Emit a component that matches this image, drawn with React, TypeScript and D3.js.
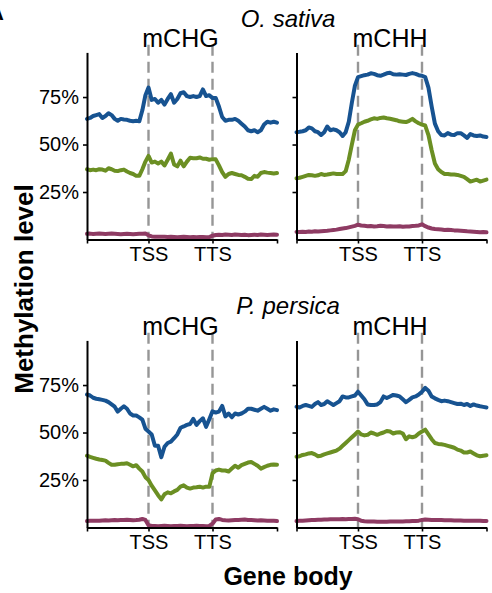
import React, { useEffect, useRef } from 'react';
import * as d3 from 'd3';

// bins along the metagene: 20 upstream, 20 gene body, 20 downstream
const bins = d3.range(61).map(i => i / 20);
const xTicks = [0, 1, 2, 3];
const xTickLabels = ['', 'TSS', 'TTS', ''];
const yTicks = [0.25, 0.5, 0.75];
const yTickLabels = ['25%', '50%', '75%'];
const species = ['O. sativa', 'P. persica'];
const contexts = ['mCHG', 'mCHH'];
const colors = ['#175391', '#6b8f23', '#8e3b63'];

// O. sativa mCHG
const sativaChgBlue = [0.635, 0.64, 0.65, 0.655, 0.66, 0.64, 0.65, 0.665, 0.655, 0.635, 0.625, 0.635, 0.632, 0.63, 0.625, 0.623, 0.625, 0.622, 0.68, 0.76, 0.8, 0.735, 0.74, 0.72, 0.735, 0.71, 0.74, 0.765, 0.72, 0.74, 0.77, 0.775, 0.755, 0.75, 0.755, 0.75, 0.755, 0.79, 0.755, 0.76, 0.745, 0.745, 0.7, 0.645, 0.625, 0.63, 0.63, 0.635, 0.625, 0.61, 0.595, 0.575, 0.57, 0.575, 0.565, 0.575, 0.605, 0.62, 0.615, 0.62, 0.615];
const sativaChgGreen = [0.37, 0.365, 0.368, 0.365, 0.37, 0.368, 0.362, 0.375, 0.37, 0.362, 0.36, 0.365, 0.368, 0.358, 0.35, 0.345, 0.335, 0.335, 0.37, 0.41, 0.44, 0.405, 0.41, 0.4, 0.41, 0.39, 0.42, 0.452, 0.395, 0.385, 0.415, 0.385, 0.41, 0.43, 0.428, 0.428, 0.432, 0.425, 0.425, 0.42, 0.423, 0.422, 0.39, 0.355, 0.33, 0.345, 0.35, 0.345, 0.34, 0.338, 0.33, 0.32, 0.318, 0.335, 0.33, 0.35, 0.355, 0.352, 0.35, 0.348, 0.35];
const sativaChgRed = [0.03, 0.031, 0.029, 0.03, 0.031, 0.03, 0.029, 0.03, 0.031, 0.03, 0.029, 0.028, 0.029, 0.03, 0.029, 0.028, 0.029, 0.03, 0.03, 0.031, 0.022, 0.016, 0.015, 0.014, 0.015, 0.014, 0.013, 0.014, 0.013, 0.012, 0.013, 0.014, 0.013, 0.012, 0.013, 0.012, 0.013, 0.013, 0.012, 0.013, 0.02, 0.024, 0.025, 0.024, 0.026, 0.025, 0.024, 0.026, 0.025, 0.024, 0.025, 0.023, 0.024, 0.025, 0.024, 0.026, 0.025, 0.024, 0.025, 0.026, 0.025];

// O. sativa mCHH
const sativaChhBlue = [0.565, 0.567, 0.57, 0.575, 0.59, 0.585, 0.57, 0.565, 0.55, 0.565, 0.595, 0.575, 0.58, 0.575, 0.565, 0.545, 0.565, 0.62, 0.72, 0.81, 0.855, 0.86, 0.865, 0.868, 0.875, 0.872, 0.865, 0.862, 0.868, 0.875, 0.878, 0.87, 0.868, 0.87, 0.868, 0.866, 0.872, 0.876, 0.872, 0.865, 0.862, 0.855, 0.8, 0.7, 0.61, 0.57, 0.55, 0.548, 0.56, 0.552, 0.55, 0.56, 0.56, 0.548, 0.535, 0.555, 0.548, 0.545, 0.548, 0.542, 0.54];
const sativaChhGreen = [0.322, 0.325, 0.33, 0.335, 0.34, 0.338, 0.335, 0.338, 0.345, 0.34, 0.342, 0.345, 0.348, 0.345, 0.345, 0.345, 0.36, 0.42, 0.5, 0.575, 0.605, 0.612, 0.62, 0.625, 0.632, 0.638, 0.635, 0.64, 0.642, 0.638, 0.636, 0.632, 0.628, 0.622, 0.62, 0.618, 0.625, 0.635, 0.622, 0.612, 0.605, 0.6, 0.55, 0.47, 0.4, 0.37, 0.355, 0.345, 0.345, 0.342, 0.342, 0.34, 0.335, 0.33, 0.318, 0.305, 0.31, 0.315, 0.305, 0.31, 0.315];
const sativaChhRed = [0.04, 0.039, 0.041, 0.04, 0.042, 0.041, 0.043, 0.042, 0.044, 0.045, 0.046, 0.048, 0.05, 0.052, 0.055, 0.058, 0.06, 0.064, 0.068, 0.072, 0.078, 0.074, 0.072, 0.07, 0.071, 0.069, 0.07, 0.072, 0.071, 0.069, 0.07, 0.068, 0.069, 0.07, 0.067, 0.068, 0.069, 0.071, 0.072, 0.074, 0.08, 0.07, 0.063, 0.058, 0.055, 0.054, 0.053, 0.05, 0.051, 0.05, 0.048, 0.047, 0.046, 0.045, 0.043, 0.042, 0.041, 0.04, 0.038, 0.039, 0.038];

// P. persica mCHG
const persicaChgBlue = [0.7, 0.695, 0.683, 0.678, 0.675, 0.672, 0.668, 0.66, 0.648, 0.636, 0.61, 0.625, 0.638, 0.625, 0.6, 0.59, 0.59, 0.58, 0.568, 0.52, 0.505, 0.49, 0.43, 0.43, 0.37, 0.425, 0.445, 0.452, 0.47, 0.49, 0.525, 0.532, 0.54, 0.545, 0.572, 0.54, 0.56, 0.575, 0.53, 0.57, 0.612, 0.605, 0.61, 0.64, 0.585, 0.6, 0.58, 0.6, 0.595, 0.6, 0.61, 0.625, 0.625, 0.62, 0.615, 0.625, 0.635, 0.625, 0.615, 0.622, 0.618];
const persicaChgGreen = [0.378, 0.372, 0.367, 0.362, 0.358, 0.355, 0.352, 0.34, 0.33, 0.33, 0.333, 0.335, 0.336, 0.338, 0.33, 0.322, 0.328, 0.31, 0.295, 0.265, 0.25, 0.22, 0.195, 0.17, 0.148, 0.175, 0.185, 0.18, 0.19, 0.198, 0.215, 0.222, 0.21, 0.205, 0.21, 0.212, 0.215, 0.21, 0.215, 0.215, 0.285, 0.3, 0.305, 0.3, 0.3, 0.295, 0.31, 0.325, 0.315, 0.328, 0.335, 0.342, 0.345, 0.335, 0.325, 0.31, 0.318, 0.325, 0.33, 0.332, 0.33];
const persicaChgRed = [0.034, 0.035, 0.036, 0.036, 0.035, 0.037, 0.038, 0.037, 0.038, 0.039, 0.038, 0.039, 0.04, 0.041, 0.04, 0.038, 0.039, 0.041, 0.045, 0.04, 0.012, 0.008, 0.008, 0.007, 0.008, 0.009, 0.008, 0.007, 0.008, 0.008, 0.009, 0.008, 0.007, 0.008, 0.008, 0.009, 0.008, 0.008, 0.007, 0.008, 0.02, 0.042, 0.045, 0.04, 0.038, 0.037, 0.038, 0.039, 0.04, 0.041, 0.042, 0.04, 0.039, 0.038, 0.037, 0.038, 0.037, 0.036, 0.035, 0.035, 0.034];

// P. persica mCHH
const persicaChhBlue = [0.636, 0.632, 0.64, 0.645, 0.64, 0.635, 0.65, 0.66, 0.645, 0.65, 0.665, 0.655, 0.645, 0.655, 0.665, 0.69, 0.685, 0.685, 0.69, 0.695, 0.715, 0.695, 0.675, 0.648, 0.645, 0.645, 0.648, 0.66, 0.69, 0.682, 0.69, 0.698, 0.695, 0.69, 0.675, 0.66, 0.672, 0.685, 0.69, 0.7, 0.715, 0.735, 0.72, 0.69, 0.68, 0.672, 0.665, 0.668, 0.665, 0.66, 0.655, 0.65, 0.652, 0.645, 0.65, 0.64, 0.648, 0.642, 0.638, 0.635, 0.632];
const persicaChhGreen = [0.373, 0.375, 0.382, 0.385, 0.39, 0.392, 0.385, 0.375, 0.378, 0.385, 0.39, 0.395, 0.4, 0.405, 0.415, 0.43, 0.445, 0.46, 0.475, 0.49, 0.505, 0.49, 0.485, 0.488, 0.5, 0.495, 0.488, 0.495, 0.5, 0.508, 0.505, 0.495, 0.5, 0.502, 0.495, 0.465, 0.48, 0.475, 0.48, 0.495, 0.505, 0.515, 0.49, 0.465, 0.445, 0.44, 0.438, 0.435, 0.43, 0.425, 0.42, 0.41, 0.405, 0.395, 0.395, 0.4, 0.39, 0.38, 0.375, 0.378, 0.38];
const persicaChhRed = [0.034, 0.035, 0.036, 0.037, 0.038, 0.039, 0.04, 0.041, 0.041, 0.042, 0.042, 0.043, 0.043, 0.044, 0.044, 0.045, 0.044, 0.045, 0.045, 0.046, 0.044, 0.035, 0.033, 0.032, 0.031, 0.031, 0.03, 0.03, 0.03, 0.03, 0.031, 0.031, 0.032, 0.031, 0.032, 0.033, 0.033, 0.034, 0.034, 0.036, 0.04, 0.042, 0.041, 0.04, 0.04, 0.039, 0.039, 0.038, 0.038, 0.038, 0.037, 0.037, 0.037, 0.036, 0.036, 0.036, 0.035, 0.035, 0.035, 0.034, 0.034];

const font = 'Liberation Sans, Arial, Helvetica, sans-serif';

export default function App () {
  const svgRef = useRef<SVGSVGElement>(null);

  useEffect(() => {
    const svg = d3.select(svgRef.current);
    svg.selectAll('*').remove();

    const panels = [
      { row: 0, col: 0, series: [sativaChgBlue, sativaChgGreen, sativaChgRed] },
      { row: 0, col: 1, series: [sativaChhBlue, sativaChhGreen, sativaChhRed] },
      { row: 1, col: 0, series: [persicaChgBlue, persicaChgGreen, persicaChgRed] },
      { row: 1, col: 1, series: [persicaChhBlue, persicaChhGreen, persicaChhRed] },
    ];

    panels.forEach(p => {
      const dx = p.col * 209.5;
      const dy = p.row * 288;
      const x = d3.scaleLinear()
        .domain(xTicks)
        .range([87, 148.5, 212.5, 277].map(v => v + dx));
      const y = d3.scaleLinear()
        .domain([0, 0.985])
        .range([239.5 + dy, 52.4 + dy]);

      const g = svg.append('g');

      // dashed TSS / TTS guides
      g.selectAll('.guide')
        .data([1, 2])
        .join('line')
          .attr('x1', d => x(d))
          .attr('x2', d => x(d))
          .attr('y1', y(1.025))
          .attr('y2', y(0))
          .attr('stroke', '#969696')
          .attr('stroke-width', 2.4)
          .attr('stroke-dasharray', '11,6');

      const line = d3.line<number>()
        .x((d, i) => x(bins[i]))
        .y(d => y(d));

      g.selectAll('.series')
        .data(p.series)
        .join('path')
          .attr('d', d => line(d))
          .attr('fill', 'none')
          .attr('stroke', (d, i) => colors[i])
          .attr('stroke-width', 4)
          .attr('stroke-linejoin', 'round')
          .attr('stroke-linecap', 'round');

      const xAxis = d3.axisBottom(x)
        .tickValues(xTicks)
        .tickSize(4)
        .tickSizeOuter(0)
        .tickPadding(3)
        .tickFormat((d, i) => xTickLabels[i]);

      const yAxis = d3.axisLeft(y)
        .tickValues(yTicks)
        .tickSize(4)
        .tickSizeOuter(0)
        .tickPadding(4)
        .tickFormat((d, i) => p.col === 0 ? yTickLabels[i] : '');

      const gx = g.append('g')
        .attr('transform', `translate(0, ${y(0)})`)
        .call(xAxis);
      const gy = g.append('g')
        .attr('transform', `translate(${x(0)}, 0)`)
        .call(yAxis);

      [gx, gy].forEach(a => {
        a.attr('font-family', font).attr('font-size', 20);
        a.select('.domain').attr('stroke', '#000').attr('stroke-width', 2);
        a.selectAll('.tick line').attr('stroke', '#000').attr('stroke-width', 1.6);
        a.selectAll('.tick text').attr('fill', '#000');
      });

      // facet title
      g.append('text')
        .attr('x', (x(1) + x(2)) / 2)
        .attr('y', 47 + dy)
        .attr('text-anchor', 'middle')
        .attr('font-family', font)
        .attr('font-size', 25)
        .text(contexts[p.col]);
    });

    // species headers
    species.forEach((s, i) => {
      svg.append('text')
        .attr('x', 288)
        .attr('y', 27 + i * 287)
        .attr('text-anchor', 'middle')
        .attr('font-family', font)
        .attr('font-style', 'italic')
        .attr('font-size', 24)
        .text(s);
    });

    // panel letter, partly cropped at the left edge as in the figure
    svg.append('text')
      .attr('x', -12)
      .attr('y', 20)
      .attr('font-family', font)
      .attr('font-weight', 'bold')
      .attr('font-size', 22)
      .text('A');

    svg.append('text')
      .attr('transform', 'translate(33, 289) rotate(-90)')
      .attr('text-anchor', 'middle')
      .attr('font-family', font)
      .attr('font-weight', 'bold')
      .attr('font-size', 26)
      .text('Methylation level');

    svg.append('text')
      .attr('x', 288)
      .attr('y', 585)
      .attr('text-anchor', 'middle')
      .attr('font-family', font)
      .attr('font-weight', 'bold')
      .attr('font-size', 25)
      .text('Gene body');
  }, []);

  return (
    <svg ref={svgRef} width={492} height={593}
      style={{ position: 'absolute', left: 0, top: 0, background: '#fff' }} />
  );
}
